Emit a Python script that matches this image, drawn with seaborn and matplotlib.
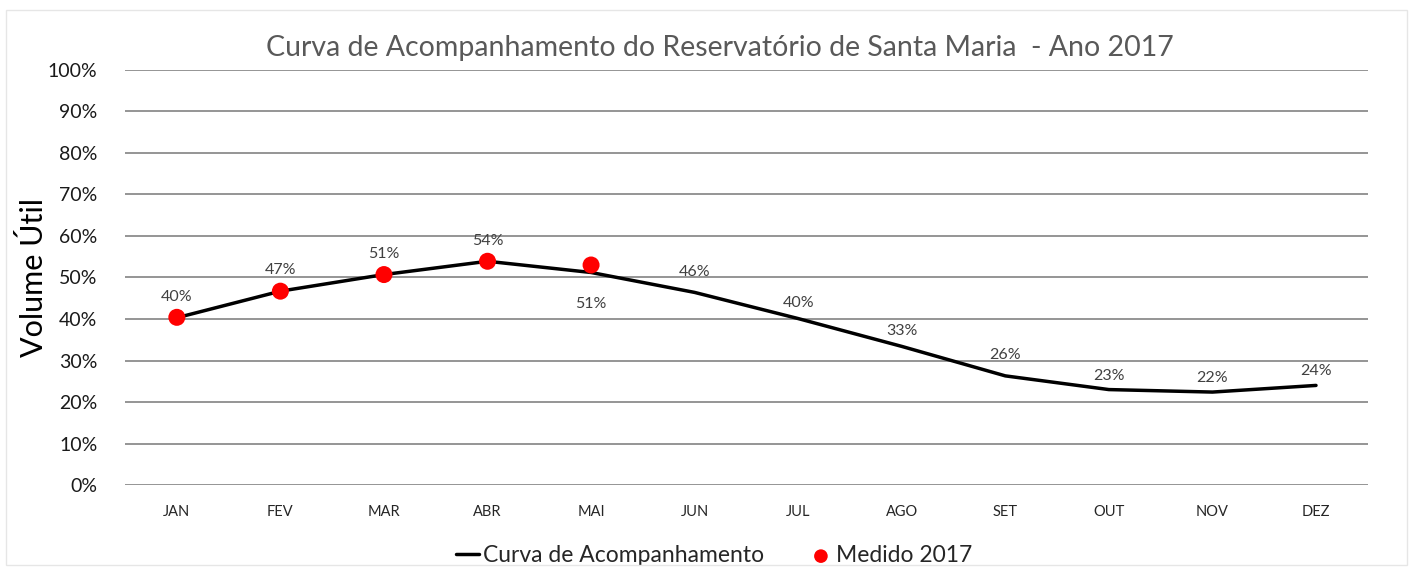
import matplotlib
matplotlib.use("Agg")
import matplotlib.pyplot as plt
import seaborn as sns
import pandas as pd
import numpy as np

months = ["JAN", "FEV", "MAR", "ABR", "MAI", "JUN", "JUL", "AGO", "SET", "OUT", "NOV", "DEZ"]
curva = [40.3, 46.7, 50.7, 53.9, 51.2, 46.4, 40.1, 33.4, 26.3, 23.0, 22.4, 24.0]
curva_labels = ["40%", "47%", "51%", "54%", "51%", "46%", "40%", "33%", "26%", "23%", "22%", "24%"]
medido_months = ["JAN", "FEV", "MAR", "ABR", "MAI"]
medido = [40.4, 46.7, 50.7, 53.9, 53.0]
yticks = [0, 10, 20, 30, 40, 50, 60, 70, 80, 90, 100]

sns.set_theme(style="white")
plt.rcParams['font.family'] = ['Lato', 'DejaVu Sans']

fig = plt.figure(figsize=(14.13, 5.68), dpi=100)
ax = fig.add_axes([0.0885, 0.146, 0.8795, 0.731])

df_c = pd.DataFrame({"mes": months, "v": curva})
df_c["x"] = np.arange(len(months))
df_m = pd.DataFrame({"mes": medido_months, "v": medido})
df_m["x"] = [months.index(m) for m in medido_months]

for y in yticks:
    ax.axhline(y, color="#8c8c8c", lw=1.3, zorder=0)

sns.lineplot(data=df_c, x="x", y="v", ax=ax, color="black", lw=2.5,
             label="Curva de Acompanhamento", zorder=2)
sns.scatterplot(data=df_m, x="x", y="v", ax=ax, color="#ff0000", s=150,
                edgecolor="none", label="Medido 2017", zorder=3)

# data labels
for i, (v, lab) in enumerate(zip(curva, curva_labels)):
    dy = 5
    if i == 4:
        dy = -7.5
    elif i in (6, 7):
        dy = 3.8
    elif i in (9, 10):
        dy = 3.3
    elif i == 11:
        dy = 3.5
    ax.text(i, v + dy, lab, ha="center", va="center", fontsize=11.5, color="#404040")

ax.set_xlim(-0.5, 11.5)
ax.set_ylim(0, 100)
ax.set_xticks(range(len(months)))
ax.set_xticklabels(months, fontsize=10.5, color="#262626")
ax.set_yticks(yticks)
ax.set_yticklabels([f"{t}%" for t in yticks], fontsize=14, color="#1a1a1a")
ax.tick_params(axis="both", length=0)
ax.tick_params(axis="x", pad=14)
ax.tick_params(axis="y", pad=20)
for s in ax.spines.values():
    s.set_visible(False)
ax.set_xlabel("")
ax.set_ylabel("Volume Útil", fontsize=22, color="black")
ax.yaxis.set_label_coords(-0.062, 0.5)
ax.set_title("Curva de Acompanhamento do Reservatório de Santa Maria  - Ano 2017",
             fontsize=20.5, color="#595959", pad=10, x=0.479)

leg = ax.legend(loc="upper center", bbox_to_anchor=(0.474, -0.095), ncol=2, frameon=False,
                fontsize=16.5, handlelength=1.0, handletextpad=0.15, columnspacing=2.0,
                markerscale=0.8)

fig.patches.append(plt.Rectangle((0.004, 0.005), 0.992, 0.977, transform=fig.transFigure,
                                 fill=False, edgecolor="#e6e6e6", lw=1))
fig.savefig("out.png", dpi=100)
